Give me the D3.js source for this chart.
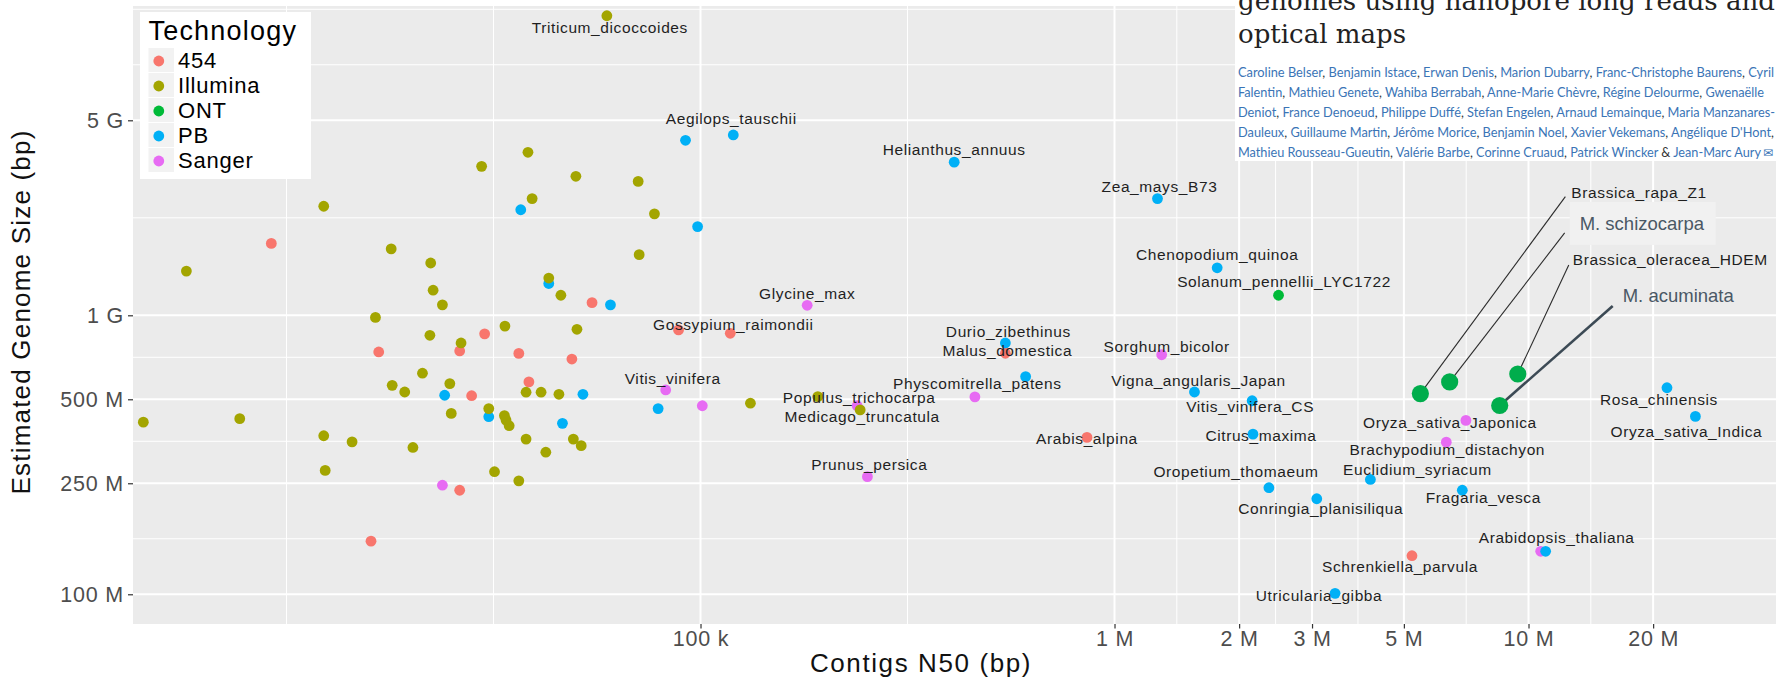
<!DOCTYPE html>
<html>
<head>
<meta charset="utf-8">
<script src="https://cdn.jsdelivr.net/npm/d3@7"></script>
<style>
  html, body { margin: 0; padding: 0; background: #fff; }
  svg { display: block; font-family: "Liberation Sans", Arial, sans-serif; }
</style>
</head>
<body>
<div id="chart"></div>
<script>
// ---- data -------------------------------------------------------------
const technologies = ['454', 'Illumina', 'ONT', 'PB', 'Sanger'];
const techColors = ['#F8766D', '#A3A500', '#00BA38', '#00B0F6', '#E76BF3'];

const xTickValues = [1e5, 1e6, 2e6, 3e6, 5e6, 1e7, 2e7];
const xTickLabels = ['100 k', '1 M', '2 M', '3 M', '5 M', '10 M', '20 M'];
const yTickValues = [1e8, 2.5e8, 5e8, 1e9, 5e9];
const yTickLabels = ['100 M', '250 M', '500 M', '1 G', '5 G'];

// axis limits (bp)
const xLimits = [4258, 3.961e7];
const yLimits = [7.825e7, 1.2843e10];

// [contig N50 (bp), estimated genome size (bp), label]
const points454 = [
  [9.19e3, 1.81e9, ''], [54.7e3, 1.11e9, ''], [30.1e3, 858e6, ''],
  [26.2e3, 745e6, ''], [16.7e3, 739e6, ''], [36.4e3, 730e6, ''],
  [48.9e3, 697e6, ''], [38.5e3, 577e6, ''], [28.0e3, 515e6, ''],
  [26.2e3, 236e6, ''], [16.0e3, 155e6, ''], [88.5e3, 886e6, ''],
  [118e3, 862e6, 'Gossypium_raimondii'],
  [545e3, 731e6, 'Malus_domestica'],
  [858e3, 365e6, 'Arabis_alpina'],
  [5.23e6, 137.5e6, 'Schrenkiella_parvula']
];

const pointsSanger = [
  [23.8e3, 246e6, ''],
  [82.4e3, 540e6, 'Vitis_vinifera'],
  [101e3, 474e6, ''],
  [181e3, 1.086e9, 'Glycine_max'],
  [239e3, 474e6, 'Populus_trichocarpa'],
  [253e3, 264e6, 'Prunus_persica'],
  [460e3, 510e6, 'Physcomitrella_patens'],
  [1.30e6, 722e6, 'Sorghum_bicolor'],
  [7.06e6, 420e6, 'Oryza_sativa_Japonica'],
  [6.33e6, 351e6, 'Brachypodium_distachyon'],
  [10.7e6, 142.6e6, '']
];

const pointsPB = [
  [36.8e3, 2.39e9, ''], [43.0e3, 1.30e9, ''], [60.6e3, 1.09e9, ''],
  [98.4e3, 2.08e9, ''], [92.0e3, 4.24e9, ''],
  [120e3, 4.43e9, 'Aegilops_tauschii'],
  [24.1e3, 517e6, ''], [52.0e3, 521e6, ''], [30.8e3, 433e6, ''],
  [46.4e3, 410e6, ''], [79.0e3, 463e6, ''],
  [410e3, 3.54e9, 'Helianthus_annuus'],
  [1.27e6, 2.62e9, 'Zea_mays_B73'],
  [545e3, 796e6, 'Durio_zibethinus'],
  [610e3, 603e6, ''],
  [1.77e6, 1.48e9, 'Chenopodium_quinoa'],
  [1.56e6, 531e6, 'Vigna_angularis_Japan'],
  [2.15e6, 494e6, 'Vitis_vinifera_CS'],
  [2.16e6, 375e6, 'Citrus_maxima'],
  [2.36e6, 241e6, 'Oropetium_thomaeum'],
  [3.08e6, 220e6, 'Conringia_planisiliqua'],
  [4.15e6, 258e6, 'Euclidium_syriacum'],
  [6.92e6, 236e6, 'Fragaria_vesca'],
  [11.0e6, 142.6e6, 'Arabidopsis_thaliana'],
  [3.41e6, 100.8e6, 'Utricularia_gibba'],
  [21.6e6, 550e6, 'Rosa_chinensis'],
  [25.3e6, 434e6, 'Oryza_sativa_Indica']
];

const pointsIllumina = [
  [59.4e3, 11.85e9, 'Triticum_dicoccoides'],
  [38.3e3, 3.84e9, ''], [29.6e3, 3.42e9, ''], [50.0e3, 3.15e9, ''],
  [70.7e3, 3.02e9, ''], [12.3e3, 2.46e9, ''], [39.2e3, 2.62e9, ''],
  [77.4e3, 2.31e9, ''], [5.73e3, 1.44e9, ''], [17.9e3, 1.73e9, ''],
  [22.3e3, 1.54e9, ''], [71.1e3, 1.65e9, ''], [43.0e3, 1.36e9, ''],
  [22.6e3, 1.23e9, ''], [46.0e3, 1.18e9, ''], [23.8e3, 1.09e9, ''],
  [16.4e3, 983e6, ''], [33.7e3, 915e6, ''], [50.3e3, 891e6, ''],
  [22.2e3, 848e6, ''], [26.4e3, 796e6, ''], [21.3e3, 620e6, ''],
  [18.0e3, 561e6, ''], [19.3e3, 531e6, ''], [24.8e3, 569e6, ''],
  [37.9e3, 530e6, ''], [41.2e3, 530e6, ''], [45.5e3, 521e6, ''],
  [25.0e3, 445e6, ''], [30.8e3, 463e6, ''], [33.6e3, 437e6, ''],
  [33.9e3, 421e6, ''], [34.5e3, 402e6, ''], [37.9e3, 360e6, ''],
  [49.3e3, 360e6, ''], [51.5e3, 341e6, ''], [42.3e3, 323e6, ''],
  [20.2e3, 336e6, ''], [31.8e3, 275e6, ''], [36.4e3, 255e6, ''],
  [4.51e3, 414e6, ''], [7.71e3, 426e6, ''], [12.3e3, 370e6, ''],
  [14.4e3, 352e6, ''], [12.4e3, 278e6, ''], [132e3, 484e6, ''],
  [192e3, 511e6, ''],
  [243e3, 458e6, 'Medicago_truncatula']
];

const pointsONT = [
  [2.49e6, 1.18e9, 'Solanum_pennellii_LYC1722']
];

// new nanopore assemblies, drawn bigger with call-outs
const ontHighlight = [
  [5.48e6, 524e6, 'Brassica_rapa_Z1'],
  [6.45e6, 577e6, 'M. schizocarpa'],
  [9.42e6, 616e6, 'Brassica_oleracea_HDEM'],
  [8.52e6, 475e6, 'M. acuminata']
];

const authorLines = [
  "Caroline Belser, Benjamin Istace, Erwan Denis, Marion Dubarry, Franc-Christophe Baurens, Cyril",
  "Falentin, Mathieu Genete, Wahiba Berrabah, Anne-Marie Chèvre, Régine Delourme, Gwenaëlle",
  "Deniot, France Denoeud, Philippe Duffé, Stefan Engelen, Arnaud Lemainque, Maria Manzanares-",
  "Dauleux, Guillaume Martin, Jérôme Morice, Benjamin Noel, Xavier Vekemans, Angélique D'Hont,",
  "Mathieu Rousseau-Gueutin, Valérie Barbe, Corinne Cruaud, Patrick Wincker & Jean-Marc Aury"
];
const titleLines = ['genomes using nanopore long reads and', 'optical maps'];

// ---- layout -----------------------------------------------------------
const W = 1776, H = 680;
const panel = { left: 133, right: 1776, top: 6, bottom: 624 };

// label position relative to its point: [dx of text centre, dy of baseline]
const labelNudge = {
  'Triticum_dicoccoides': [3, 17.6],
  'Aegilops_tauschii': [-2, -11],
  'Helianthus_annuus': [0, -7],
  'Zea_mays_B73': [2, -7],
  'Chenopodium_quinoa': [0, -7.7],
  'Solanum_pennellii_LYC1722': [5.5, -8.6],
  'Glycine_max': [0, -6],
  'Gossypium_raimondii': [3, -3.3],
  'Durio_zibethinus': [3, -6],
  'Malus_domestica': [2, 2.7],
  'Sorghum_bicolor': [5, -3],
  'Vitis_vinifera': [7, -5.7],
  'Physcomitrella_patens': [2.5, -7.7],
  'Populus_trichocarpa': [2, -2.4],
  'Medicago_truncatula': [2, 11.7],
  'Vigna_angularis_Japan': [4, -6],
  'Vitis_vinifera_CS': [-2, 11.6],
  'Citrus_maxima': [8, 6.7],
  'Arabis_alpina': [0, 6.7],
  'Prunus_persica': [2, -6.7],
  'Oropetium_thomaeum': [-33, -10.4],
  'Conringia_planisiliqua': [4, 15.3],
  'Euclidium_syriacum': [47, -4.7],
  'Fragaria_vesca': [21, 12.7],
  'Brachypodium_distachyon': [1, 12.7],
  'Oryza_sativa_Japonica': [-16, 8],
  'Rosa_chinensis': [-8, 17.3],
  'Oryza_sativa_Indica': [-9, 21],
  'Arabidopsis_thaliana': [11, -8.6],
  'Schrenkiella_parvula': [-12, 16],
  'Utricularia_gibba': [-16, 7.4]
};

// call-out layout relative to the point: text start (tx, ty), line end (lx, ly)
const calloutLayout = {
  'Brassica_rapa_Z1':       { tx: 151, ty: -195.5, lx: 145, ly: -197, big: false },
  'M. schizocarpa':         { tx: 130, ty: -152,   lx: 115, ly: -149, big: true, box: true },
  'Brassica_oleracea_HDEM': { tx: 55,  ty: -109.5, lx: 51,  ly: -109, big: false },
  'M. acuminata':           { tx: 123, ty: -103,   lx: 113, ly: -99.5, big: true, thick: true }
};

// ---- scales -----------------------------------------------------------
const x = d3.scaleLog().domain(xLimits).range([panel.left, panel.right]);
const y = d3.scaleLog().domain(yLimits).range([panel.bottom, panel.top]);
const color = d3.scaleOrdinal().domain(technologies).range(techColors);

// ggplot style minor breaks, computed in log space
function minorBreaks(majors, limits) {
  const b = majors.map(Math.log10);
  const bd = b[1] - b[0];
  const lim = limits.map(Math.log10);
  const ext = [b[0] - bd, ...b, b[b.length - 1] + bd];
  const out = [];
  for (let i = 0; i < ext.length - 1; i++) out.push(ext[i], (ext[i] + ext[i + 1]) / 2);
  out.push(ext[ext.length - 1]);
  return out
    .filter(v => v > lim[0] && v < lim[1] && !b.some(m => Math.abs(m - v) < 1e-9))
    .map(v => Math.pow(10, v));
}

const svg = d3.select('#chart').append('svg')
  .attr('width', W)
  .attr('height', H);

svg.append('defs').append('clipPath').attr('id', 'panel-clip')
  .append('rect')
  .attr('x', panel.left).attr('y', panel.top)
  .attr('width', panel.right - panel.left)
  .attr('height', panel.bottom - panel.top);

// panel background
svg.append('rect')
  .attr('x', panel.left).attr('y', panel.top)
  .attr('width', panel.right - panel.left)
  .attr('height', panel.bottom - panel.top)
  .attr('fill', '#EBEBEB');

// grid
const grid = svg.append('g').attr('clip-path', 'url(#panel-clip)');
grid.selectAll('.xminor').data(minorBreaks(xTickValues, xLimits)).enter()
  .append('line')
  .attr('x1', d => x(d)).attr('x2', d => x(d))
  .attr('y1', panel.top).attr('y2', panel.bottom)
  .attr('stroke', '#fff').attr('stroke-width', 1);
grid.selectAll('.yminor').data(minorBreaks(yTickValues, yLimits)).enter()
  .append('line')
  .attr('y1', d => y(d)).attr('y2', d => y(d))
  .attr('x1', panel.left).attr('x2', panel.right)
  .attr('stroke', '#fff').attr('stroke-width', 1);
grid.selectAll('.xmajor').data(xTickValues).enter()
  .append('line')
  .attr('x1', d => x(d)).attr('x2', d => x(d))
  .attr('y1', panel.top).attr('y2', panel.bottom)
  .attr('stroke', '#fff').attr('stroke-width', 2);
grid.selectAll('.ymajor').data(yTickValues).enter()
  .append('line')
  .attr('y1', d => y(d)).attr('y2', d => y(d))
  .attr('x1', panel.left).attr('x2', panel.right)
  .attr('stroke', '#fff').attr('stroke-width', 2);

// axes
const xAxis = svg.append('g')
  .attr('transform', `translate(0,${panel.bottom})`)
  .call(d3.axisBottom(x).tickValues(xTickValues)
    .tickFormat((d, i) => xTickLabels[i]).tickSize(4.5).tickPadding(2));
const yAxis = svg.append('g')
  .attr('transform', `translate(${panel.left},0)`)
  .call(d3.axisLeft(y).tickValues(yTickValues)
    .tickFormat((d, i) => yTickLabels[i]).tickSize(5).tickPadding(4));
[xAxis, yAxis].forEach(a => {
  a.select('.domain').remove();
  a.selectAll('.tick line').attr('stroke', '#333').attr('stroke-width', 1.2);
  a.selectAll('.tick text')
    .attr('fill', '#4D4D4D')
    .style('font-size', '21.5px')
    .style('letter-spacing', '0.8px')
    .style('font-family', '"Liberation Sans", Arial, sans-serif');
});

// axis titles
svg.append('text')
  .attr('x', 921).attr('y', 672)
  .attr('text-anchor', 'middle')
  .style('font-size', '26px').style('letter-spacing', '1.6px')
  .attr('fill', '#111')
  .text('Contigs N50 (bp)');
svg.append('text')
  .attr('transform', 'translate(30,312) rotate(-90)')
  .attr('text-anchor', 'middle')
  .style('font-size', '26px').style('letter-spacing', '1.2px')
  .attr('fill', '#111')
  .text('Estimated Genome Size (bp)');

// points
const toRows = (arr, tech) => arr.map(d => ({ n50: d[0], size: d[1], name: d[2], tech }));
const allPoints = [].concat(
  toRows(points454, '454'),
  toRows(pointsSanger, 'Sanger'),
  toRows(pointsPB, 'PB'),
  toRows(pointsIllumina, 'Illumina'),
  toRows(pointsONT, 'ONT')
);

const plot = svg.append('g').attr('clip-path', 'url(#panel-clip)');
plot.selectAll('.pt').data(allPoints).enter()
  .append('circle')
  .attr('cx', d => x(d.n50))
  .attr('cy', d => y(d.size))
  .attr('r', 5.4)
  .attr('fill', d => color(d.tech));

// call-out lines, then big ONT points
const highlight = ontHighlight.map(d => ({ n50: d[0], size: d[1], name: d[2], lay: calloutLayout[d[2]] }));
plot.selectAll('.callout').data(highlight).enter()
  .append('line')
  .attr('x1', d => x(d.n50)).attr('y1', d => y(d.size))
  .attr('x2', d => x(d.n50) + d.lay.lx).attr('y2', d => y(d.size) + d.lay.ly)
  .attr('stroke', d => d.lay.thick ? '#3C4A55' : '#2b2b2b')
  .attr('stroke-width', d => d.lay.thick ? 2.6 : 1.1);
plot.selectAll('.big').data(highlight).enter()
  .append('circle')
  .attr('cx', d => x(d.n50))
  .attr('cy', d => y(d.size))
  .attr('r', 8.6)
  .attr('fill', '#00AD4C');

// point labels
plot.selectAll('.lbl').data(allPoints.filter(d => d.name)).enter()
  .append('text')
  .attr('x', d => x(d.n50) + (labelNudge[d.name] || [0, -8])[0])
  .attr('y', d => y(d.size) + (labelNudge[d.name] || [0, -8])[1])
  .attr('text-anchor', 'middle')
  .style('font-size', '15.5px')
  .style('letter-spacing', '0.6px')
  .attr('fill', '#1f1f1f')
  .text(d => d.name);

// call-out labels
highlight.forEach(d => {
  const px = x(d.n50) + d.lay.tx, py = y(d.size) + d.lay.ty;
  if (d.lay.box) {
    plot.append('rect')
      .attr('x', px - 10).attr('y', py - 28)
      .attr('width', 146).attr('height', 43)
      .attr('fill', '#F1F1F1');
  }
  plot.append('text')
    .attr('x', px).attr('y', py)
    .style('font-size', d.lay.big ? '18.5px' : '15.5px')
    .style('letter-spacing', d.lay.big ? '0px' : '0.6px')
    .attr('fill', d.lay.big ? '#4A5865' : '#1f1f1f')
    .text(d.name);
});

// legend
const legend = svg.append('g').attr('transform', 'translate(140,12)');
legend.append('rect')
  .attr('width', 171).attr('height', 167)
  .attr('fill', '#fff');
legend.append('text')
  .attr('x', 8.5).attr('y', 28)
  .style('font-size', '27px').style('letter-spacing', '1.2px')
  .attr('fill', '#000')
  .text('Technology');
const rows = legend.selectAll('.row').data(technologies).enter()
  .append('g')
  .attr('transform', (d, i) => `translate(8.5,${36 + i * 25})`);
rows.append('rect')
  .attr('width', 25.5).attr('height', 24)
  .attr('fill', '#F2F2F2');
rows.append('circle')
  .attr('cx', 10.3).attr('cy', 13)
  .attr('r', 5.4)
  .attr('fill', d => color(d));
rows.append('text')
  .attr('x', 29.5).attr('y', 19.5)
  .style('font-size', '22px').style('letter-spacing', '0.8px')
  .attr('fill', '#000')
  .text(d => d);

// article header pasted over the top right corner
const article = svg.append('g');
article.append('rect')
  .attr('x', 1235).attr('y', 0)
  .attr('width', W - 1235).attr('height', 161)
  .attr('fill', '#fff');
article.selectAll('.title').data(titleLines).enter()
  .append('text')
  .attr('x', 1238)
  .attr('y', (d, i) => 10 + i * 33.3)
  .attr('textLength', (d, i) => i === 0 ? 537 : 168)
  .attr('lengthAdjust', 'spacingAndGlyphs')
  .style('font-family', '"DejaVu Serif", "Liberation Serif", serif')
  .style('font-size', '26px')
  .attr('fill', '#222')
  .text(d => d);

const authorWidths = [536, 526, 537, 536, 523];
authorLines.forEach((line, i) => {
  const t = article.append('text')
    .attr('x', 1238)
    .attr('y', 77 + i * 20)
    .attr('textLength', authorWidths[i])
    .attr('lengthAdjust', 'spacingAndGlyphs')
    .style('font-family', 'Lato, "Open Sans", sans-serif')
    .style('font-size', '12.8px');
  line.split(/(,|&)/).forEach(part => {
    if (!part) return;
    t.append('tspan')
      .attr('fill', part === ',' || part === '&' ? '#333' : '#3A74B6')
      .text(part);
  });
});
article.append('text')
  .attr('x', 1763).attr('y', 157)
  .style('font-family', '"DejaVu Sans", sans-serif')
  .style('font-size', '12px')
  .attr('fill', '#3A74B6')
  .text('\u2709');
</script>
</body>
</html>
